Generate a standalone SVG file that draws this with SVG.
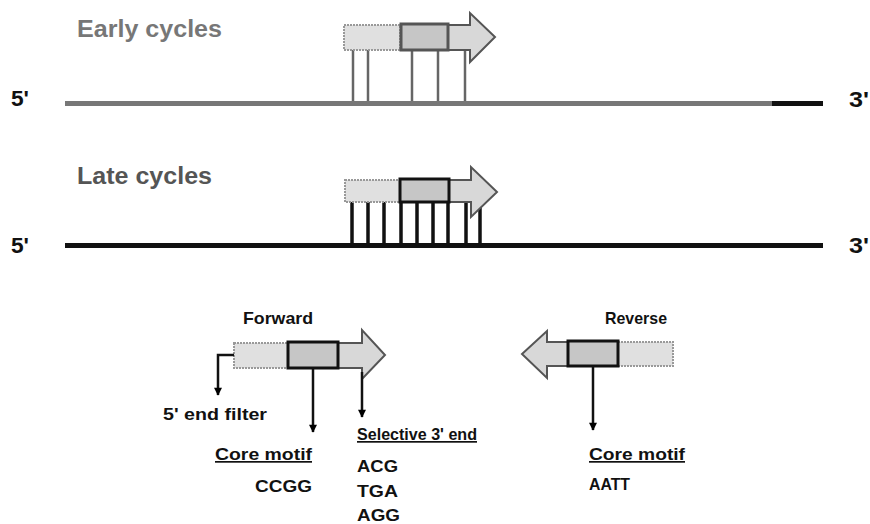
<svg xmlns="http://www.w3.org/2000/svg" width="870" height="524" viewBox="0 0 870 524">
<defs>
<marker id="ah" viewBox="0 0 10 10" refX="9" refY="5" markerWidth="9" markerHeight="8" markerUnits="userSpaceOnUse" orient="auto">
<path d="M0,0 L10,5 L0,10 Z" fill="#000"/>
</marker>
<style>
text{font-family:"Liberation Sans",Arial,sans-serif;font-weight:bold;fill:#111}
.head{font-size:23px;fill:#777}
.prime{font-size:22px;fill:#111}
.lbl{font-size:17px}
.u{text-decoration:underline}
.light{fill:#e0e0e0;stroke:#999;stroke-width:2;stroke-dasharray:2 1}
.core{fill:#c6c6c6;stroke:#111;stroke-width:3}
.tip{fill:#d8d8d8;stroke:#555;stroke-width:2}
.earlyc .core{stroke:#555}
.conn{stroke:#111;stroke-width:2.5;fill:none}
.rung{stroke-width:2.5}
</style>
</defs>
<rect width="870" height="524" fill="#fff"/>

<g id="early">
<text class="head" x="77" y="37" textLength="145" lengthAdjust="spacingAndGlyphs">Early cycles</text>
<text class="prime" x="11" y="106" textLength="18" lengthAdjust="spacingAndGlyphs">5'</text>
<text class="prime" x="849" y="107" textLength="20" lengthAdjust="spacingAndGlyphs">3'</text>
<rect x="65" y="101" width="708" height="5" fill="#777"/>
<rect x="772" y="101" width="51" height="5" fill="#111"/>
<g stroke="#666" class="rung">
<line x1="353" y1="50" x2="353" y2="101"/>
<line x1="368" y1="50" x2="368" y2="101"/>
<line x1="412" y1="50" x2="412" y2="101"/>
<line x1="438" y1="50" x2="438" y2="101"/>
<line x1="465" y1="50" x2="465" y2="101"/>
</g>
<g class="earlyc">
<path class="tip" d="M446,25 H470 V13 L495,37 L470,62 V50 H446 Z"/>
<rect class="light" x="344" y="25" width="56" height="25"/>
<rect class="core" x="401" y="24" width="47" height="26"/>
</g>
</g>

<g id="late">
<text class="head" x="77" y="184" textLength="135" lengthAdjust="spacingAndGlyphs" style="fill:#555">Late cycles</text>
<text class="prime" x="11" y="253" textLength="18" lengthAdjust="spacingAndGlyphs">5'</text>
<text class="prime" x="849" y="253" textLength="20" lengthAdjust="spacingAndGlyphs">3'</text>
<rect x="65" y="243" width="758" height="5" fill="#111"/>
<g stroke="#111" stroke-width="3.5">
<line x1="352" y1="202" x2="352" y2="244"/>
<line x1="368" y1="202" x2="368" y2="244"/>
<line x1="384" y1="202" x2="384" y2="244"/>
<line x1="401" y1="202" x2="401" y2="244"/>
<line x1="417" y1="202" x2="417" y2="244"/>
<line x1="433" y1="202" x2="433" y2="244"/>
<line x1="448" y1="202" x2="448" y2="244"/>
<line x1="466" y1="202" x2="466" y2="244"/>
<line x1="480" y1="205" x2="480" y2="244"/>
</g>
<path class="tip" d="M446,180 H471 V167 L497,192 L471,217 V202 H446 Z"/>
<rect class="light" x="345" y="180" width="55" height="22"/>
<rect class="core" x="400" y="179" width="49" height="23"/>
</g>

<g id="forward">
<text class="lbl" x="243" y="324" textLength="70" lengthAdjust="spacingAndGlyphs">Forward</text>
<path class="tip" d="M336,343 H362 V330 L385,355 L362,379 V368 H336 Z"/>
<rect class="light" x="234" y="343" width="54" height="25"/>
<rect class="core" x="288" y="342" width="50" height="26"/>
</g>

<g id="reverse">
<text class="lbl" x="605" y="324" textLength="62" lengthAdjust="spacingAndGlyphs">Reverse</text>
<path class="tip" d="M570,342 H547 V331 L522,354 L547,378 V366 H570 Z"/>
<rect class="light" x="618" y="342" width="55" height="24"/>
<rect class="core" x="568" y="341" width="50" height="25"/>
</g>

<g id="label-5end">
<text class="lbl" x="163" y="420" textLength="104" lengthAdjust="spacingAndGlyphs">5' end filter</text>
</g>
<g id="label-core-f">
<text class="lbl u" x="215" y="460" textLength="97" lengthAdjust="spacingAndGlyphs">Core motif</text>
<text class="lbl" x="255" y="492" textLength="57" lengthAdjust="spacingAndGlyphs">CCGG</text>
</g>
<g id="label-selective">
<text class="lbl u" x="357" y="440" textLength="120" lengthAdjust="spacingAndGlyphs">Selective 3' end</text>
<text class="lbl" x="357" y="472" textLength="41" lengthAdjust="spacingAndGlyphs">ACG</text>
<text class="lbl" x="357" y="497" textLength="41" lengthAdjust="spacingAndGlyphs">TGA</text>
<text class="lbl" x="357" y="521" textLength="43" lengthAdjust="spacingAndGlyphs">AGG</text>
</g>
<g id="label-core-r">
<text class="lbl u" x="589" y="460" textLength="96" lengthAdjust="spacingAndGlyphs">Core motif</text>
<text class="lbl" x="589" y="490" textLength="41" lengthAdjust="spacingAndGlyphs">AATT</text>
</g>

<g id="connectors">
<path class="conn" d="M234,355 H218 V395" marker-end="url(#ah)"/>
<path class="conn" d="M313,369 V432" marker-end="url(#ah)"/>
<path class="conn" d="M362,372 V417" marker-end="url(#ah)" stroke="#444"/>
<path class="conn" d="M593,367 V430" marker-end="url(#ah)"/>
</g>
</svg>
